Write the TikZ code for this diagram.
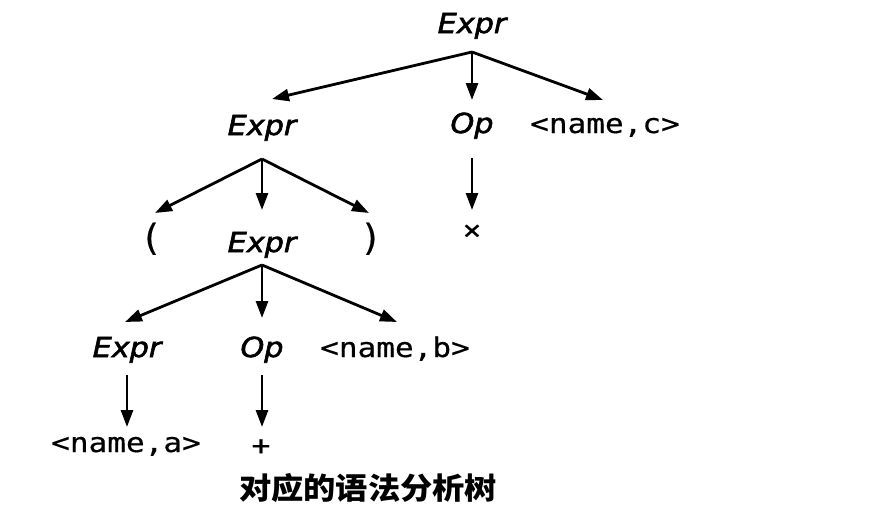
\documentclass[tikz,border=0pt]{standalone}
\usepackage{fontspec}
\usepackage{graphicx}
\usetikzlibrary{arrows.meta}
\font\exprf="DejaVu Sans Oblique:embolden=2" at 27.5pt
\newfontfamily\dmono{DejaVu Sans Mono}[FakeBold=0.5]
\newfontfamily\cjk{Noto Sans CJK SC}
\newcommand{\ntm}[1]{\scalebox{1.1}[1]{\exprf #1}}
\newcommand{\ttk}[1]{\scalebox{1.15}[1]{\dmono\fontsize{27}{30}\selectfont #1}}
\tikzset{
  lbl/.style={inner sep=0pt, anchor=base},
  sym/.style={inner sep=0pt, anchor=center},
  par/.style={font=\dmono\fontsize{36}{38}\selectfont},
  arr/.style={line width=2.8pt, -{Triangle[length=17pt,width=12pt]}},
}
\begin{document}
\begin{tikzpicture}[x=1pt,y=-1pt]
\useasboundingbox (0,0) rectangle (875,514);
% nodes
\node[lbl] (e0) at (472,33) {\ntm{Expr}};
\node[lbl] (e1) at (262,135) {\ntm{Expr}};
\node[lbl] (op1) at (472,133) {\ntm{Op}};
\node[lbl] (nc) at (605,133) {\ttk{<name,c>}};
\node[sym] (times) at (472,232) {\ttk{×}};
\node[lbl,par] (lp) at (151,250) {(};
\node[lbl] (e2) at (262,252) {\ntm{Expr}};
\node[lbl,par] (rp) at (371,250) {)};
\node[lbl] (e3) at (127,357) {\ntm{Expr}};
\node[lbl] (op3) at (262,357) {\ntm{Op}};
\node[lbl] (nb) at (395,357) {\ttk{<name,b>}};
\node[lbl] (na) at (126,452) {\ttk{<name,a>}};
\node[sym] (plus) at (261,447) {\ttk{+}};
\node[sym] (cap) at (368,488) {\scalebox{1.075}[1]{\cjk\bfseries\fontsize{30}{32}\selectfont 对应的语法分析树}};
% connectors
\draw[arr] ([shift={(0,19)}]e0.base) -- ([shift={(10,-36)}]e1.base);
\draw[arr] ([shift={(0,19)}]e0.base) -- ([shift={(0,-33)}]op1.base);
\draw[arr] ([shift={(0,19)}]e0.base) -- ([shift={(-2,-33)}]nc.base);
\draw[arr] ([shift={(0,25)}]op1.base) -- ([shift={(0,-22)}]times.center);
\draw[arr] ([shift={(0,24)}]e1.base) -- ([shift={(4,-37)}]lp.base);
\draw[arr] ([shift={(0,24)}]e1.base) -- ([shift={(0,-42)}]e2.base);
\draw[arr] ([shift={(0,24)}]e1.base) -- ([shift={(-2,-37)}]rp.base);
\draw[arr] ([shift={(0,13)}]e2.base) -- ([shift={(-2,-35)}]e3.base);
\draw[arr] ([shift={(0,13)}]e2.base) -- ([shift={(0,-39)}]op3.base);
\draw[arr] ([shift={(0,13)}]e2.base) -- ([shift={(2,-35)}]nb.base);
\draw[arr] ([shift={(0,18)}]e3.base) -- ([shift={(1,-25)}]na.base);
\draw[arr] ([shift={(0,18)}]op3.base) -- ([shift={(1,-20)}]plus.center);
\end{tikzpicture}
\end{document}
